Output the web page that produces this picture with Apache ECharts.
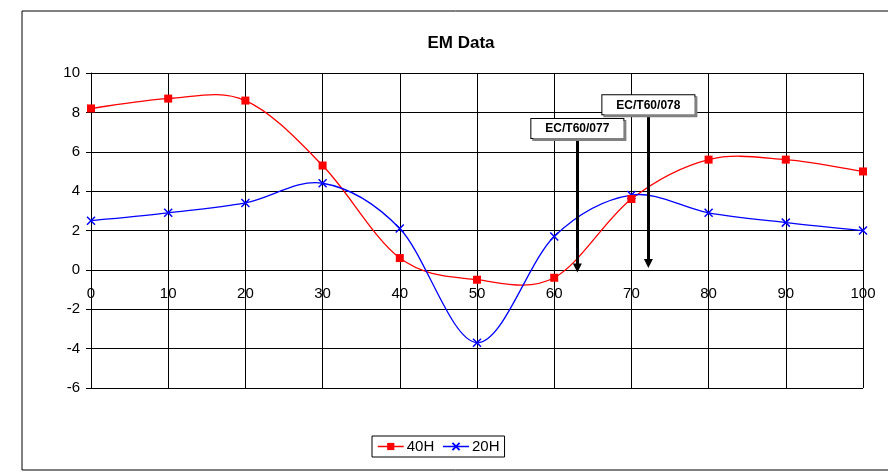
<!DOCTYPE html>
<html>
<head>
<meta charset="utf-8">
<script src="https://cdn.jsdelivr.net/npm/echarts@6/dist/echarts.min.js"></script>
<style>
html,body{margin:0;padding:0;background:#fff;}
#chart{width:888px;height:475px;}
</style>
</head>
<body>
<div id="chart"></div>
<script>
const xValues = [0, 10, 20, 30, 40, 50, 60, 70, 80, 90, 100];
const series40H = [8.2, 8.7, 8.6, 5.3, 0.6, -0.5, -0.4, 3.6, 5.6, 5.6, 5.0];
const series20H = [2.5, 2.9, 3.4, 4.4, 2.1, -3.7, 1.7, 3.8, 2.9, 2.4, 2.0];
const annotations = [
  { label: 'EC/T60/077', x: 63, top: 6.7, tip: 0.1 },
  { label: 'EC/T60/078', x: 72.2, top: 7.9, tip: 0.33 }
];

const font = 'Liberation Sans, Arial, sans-serif';
const RED = '#ff0000', BLUE = '#0000ff';
const chart = echarts.init(document.getElementById('chart'), null, { renderer: 'canvas' });

const pairs = (vals) => xValues.map((x, i) => [x, vals[i]]);

// Smooth curve segment (cardinal / Excel-like) drawn through the axis scales
function curveSeries(name, vals, color) {
  const n = xValues.length;
  return {
    name: name, type: 'custom', silent: true, z: 1,
    data: pairs(vals),
    encode: { x: 0, y: 1 },
    renderItem: function (params, api) {
      const i = params.dataIndex;
      if (i >= n - 1) return null;
      const P = (k) => {
        k = Math.max(0, Math.min(n - 1, k));
        return api.coord([xValues[k], vals[k]]);
      };
      const p0 = P(i - 1), p1 = P(i), p2 = P(i + 1), p3 = P(i + 2);
      return {
        type: 'bezierCurve',
        shape: {
          x1: p1[0], y1: p1[1],
          cpx1: p1[0] + (p2[0] - p0[0]) / 6, cpy1: p1[1] + (p2[1] - p0[1]) / 6,
          cpx2: p2[0] - (p3[0] - p1[0]) / 6, cpy2: p2[1] - (p3[1] - p1[1]) / 6,
          x2: p2[0], y2: p2[1]
        },
        style: { stroke: color, lineWidth: 1.3, fill: null }
      };
    }
  };
}

chart.setOption({
  animation: false,
  backgroundColor: '#fff',
  graphic: [{
    type: 'rect', z: -10,
    shape: { x: 22, y: 11, width: 880, height: 459 },
    style: { fill: 'none', stroke: '#000', lineWidth: 1 }
  }],
  title: {
    text: 'EM Data', left: 456, top: 30, textAlign: 'center',
    textStyle: { fontFamily: font, fontSize: 17, fontWeight: 'bold', color: '#000' }
  },
  legend: {
    left: 372, top: 436, itemGap: 8,
    padding: [3, 5, 3, 5],
    borderColor: '#000', borderWidth: 1,
    itemWidth: 26, itemHeight: 9,
    textStyle: { fontFamily: font, fontSize: 15, color: '#000', padding: [0, 0, 0, -2] },
    data: [
      { name: '40H', lineStyle: { opacity: 1, color: RED, width: 1.5 } },
      { name: '20H', lineStyle: { opacity: 1, color: BLUE, width: 1.5 } }
    ]
  },
  grid: { left: 91, right: 25, top: 73, bottom: 87, containLabel: false },
  xAxis: {
    type: 'value', min: 0, max: 100, interval: 10,
    offset: -118,
    axisLine: { onZero: false, lineStyle: { color: '#000', width: 1 } },
    axisTick: { show: true, length: 5, lineStyle: { color: '#000' } },
    axisLabel: { margin: 16, fontFamily: font, fontSize: 15, color: '#000' },
    splitLine: { show: true, lineStyle: { color: '#000', width: 1 } }
  },
  yAxis: {
    type: 'value', min: -6, max: 10, interval: 2,
    axisLine: { show: true, onZero: false, lineStyle: { color: '#000' } },
    axisTick: { show: true, length: 5, lineStyle: { color: '#000' } },
    axisLabel: { margin: 11, fontFamily: font, fontSize: 15, color: '#000' },
    splitLine: { show: true, lineStyle: { color: '#000', width: 1 } }
  },
  series: [
    curveSeries('40H curve', series40H, RED),
    curveSeries('20H curve', series20H, BLUE),
    {
      name: '40H', type: 'line',
      data: pairs(series40H),
      symbol: 'rect', symbolSize: 8,
      lineStyle: { color: RED, width: 1.5, opacity: 0 },
      itemStyle: { color: RED },
      z: 4,
      markLine: {
        silent: true,
        symbol: ['none', 'triangle'], symbolSize: 9, symbolRotate: 180,
        lineStyle: { color: '#000', width: 3, type: 'solid', opacity: 1 },
        itemStyle: { color: '#000' },
        label: {
          show: true, position: 'start', distance: 0,
          formatter: (p) => p.name,
          fontFamily: font, fontSize: 12, fontWeight: 'bold', color: '#000',
          backgroundColor: '#fff', borderColor: '#000', borderWidth: 1,
          padding: [4, 14, 3, 14],
          shadowColor: '#808080', shadowOffsetX: 2, shadowOffsetY: 2, shadowBlur: 0
        },
        data: annotations.map(a => [
          { name: a.label, coord: [a.x, a.top] },
          { coord: [a.x, a.tip] }
        ])
      }
    },
    {
      name: '20H', type: 'line',
      data: pairs(series20H),
      symbol: 'path://M0,0 L10,10 M10,0 L0,10', symbolSize: 8,
      lineStyle: { color: BLUE, width: 1.5, opacity: 0 },
      itemStyle: { color: BLUE, borderColor: BLUE, borderWidth: 1.5 },
      z: 3
    }
  ]
});
</script>
</body>
</html>
